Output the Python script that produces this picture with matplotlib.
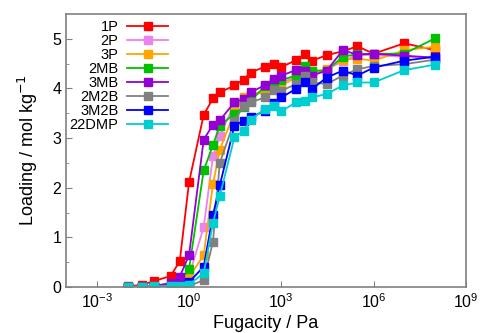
import numpy as np
import matplotlib
matplotlib.use("Agg")
import matplotlib.pyplot as plt

plt.rcParams['font.family'] = ['Liberation Sans', 'DejaVu Sans']

# fugacity grid (Pa)
fugacidade = [0.01, 0.03, 0.07, 0.25, 0.5, 1, 3, 6, 10, 30, 60, 100, 300, 600,
              1e3, 3e3, 6e3, 1e4, 3e4, 1e5, 3e5, 1e6, 1e7, 1e8]

# loading (mol/kg) for each molecule
carga_1P = [0.02, 0.04, 0.12, 0.22, 0.52, 2.11, 3.47, 3.80, 3.92, 4.06, 4.18, 4.32, 4.44, 4.50,
            4.43, 4.57, 4.69, 4.56, 4.67, 4.75, 4.85, 4.70, 4.91, 4.77]
carga_2P = [0.0, 0.0, 0.01, 0.03, 0.08, 0.22, 1.21, 2.63, 3.05, 3.68, 3.75, 3.85, 3.98, 4.08,
            4.10, 4.25, 4.34, 4.28, 4.38, 4.55, 4.68, 4.67, 4.64, 4.62]
carga_3P = [0.0, 0.0, 0.01, 0.02, 0.06, 0.20, 0.64, 2.07, 2.77, 3.52, 3.82, 3.88, 3.92, 4.12,
            4.06, 4.22, 4.36, 4.30, 4.40, 4.58, 4.60, 4.56, 4.77, 4.84]
carga_2MB = [0.0, 0.0, 0.01, 0.04, 0.12, 0.36, 2.35, 2.86, 3.25, 3.49, 3.62, 3.75, 4.05, 4.12,
             4.17, 4.26, 4.46, 4.36, 4.36, 4.64, 4.69, 4.70, 4.70, 5.01]
carga_3MB = [0.0, 0.01, 0.02, 0.08, 0.21, 0.64, 2.97, 3.27, 3.36, 3.72, 3.79, 3.92, 4.07, 4.20,
             4.26, 4.37, 4.36, 4.26, 4.36, 4.77, 4.68, 4.70, 4.66, 4.62]
carga_2M2B = [0.0, 0.0, 0.0, 0.0, 0.01, 0.02, 0.14, 0.91, 2.50, 3.35, 3.65, 3.72, 3.82, 3.97,
              3.95, 4.09, 4.26, 4.12, 4.09, 4.26, 4.39, 4.45, 4.49, 4.58]
carga_3M2B = [0.0, 0.0, 0.0, 0.01, 0.03, 0.10, 0.41, 1.45, 2.05, 3.25, 3.35, 3.42, 3.55, 3.70,
              3.82, 3.99, 4.12, 3.99, 4.22, 4.36, 4.26, 4.42, 4.56, 4.64]
carga_22DMP = [0.01, 0.01, 0.02, 0.02, 0.03, 0.05, 0.28, 1.29, 1.83, 3.02, 3.15, 3.37, 3.59, 3.65,
               3.54, 3.72, 3.75, 3.82, 3.89, 4.06, 4.12, 4.12, 4.37, 4.48]

nomes = ["1P", "2P", "3P", "2MB", "3MB", "2M2B", "3M2B", "22DMP"]
cargas = [carga_1P, carga_2P, carga_3P, carga_2MB, carga_3MB, carga_2M2B, carga_3M2B, carga_22DMP]
cores = ["#ff0000", "#ee82ee", "#ffa500", "#00c000", "#9400d3", "#808080", "#0000ff", "#00cdd0"]

fig = plt.figure(figsize=(4.8, 3.33), dpi=100)
ax = fig.add_axes([0.1375, 0.138, 0.833, 0.82])

for nome, carga, cor in zip(nomes, cargas, cores):
    ax.plot(fugacidade, carga, '-s', color=cor, label=nome, lw=1.3, ms=5.8)

ax.set_xscale('log')
ax.set_xlim(1e-4, 1e9)
ax.set_ylim(0, 5.5)
ax.set_xticks([1e-3, 1e0, 1e3, 1e6, 1e9])
ax.xaxis.set_minor_locator(matplotlib.ticker.NullLocator())
ax.set_yticks([0, 1, 2, 3, 4, 5])
ax.set_yticks(np.arange(0.5, 5.5, 1.0), minor=True)
ax.tick_params(direction='in', labelsize=11.5, color='#808080', length=4)
ax.tick_params(which='minor', direction='in', color='#808080', length=2.5)
for s in ax.spines.values():
    s.set_color('#808080')
    s.set_linewidth(1.2)

ax.set_xlabel("Fugacity / Pa", fontsize=13, labelpad=3)
ax.set_ylabel("Loading / mol kg$^{-1}$", fontsize=13, labelpad=9)

ax.legend(loc='upper right', bbox_to_anchor=(0.27, 1.0), frameon=False, markerfirst=False,
          fontsize=10.5, labelspacing=0.0, handlelength=2.8, handletextpad=0.6,
          borderaxespad=0.1, borderpad=0.3)

plt.savefig("out.png", dpi=100)
